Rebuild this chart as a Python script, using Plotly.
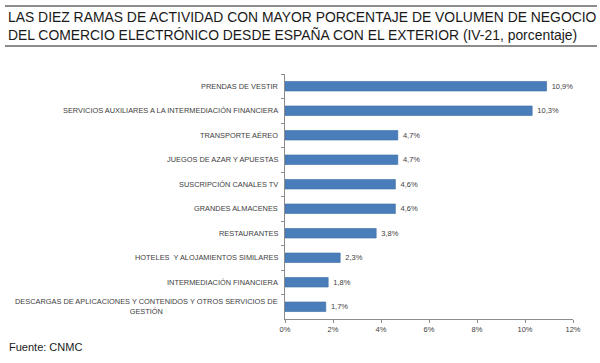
import plotly.graph_objects as go

categories = [
    "PRENDAS DE VESTIR",
    "SERVICIOS AUXILIARES A LA INTERMEDIACIÓN FINANCIERA",
    "TRANSPORTE AÉREO",
    "JUEGOS DE AZAR Y APUESTAS",
    "SUSCRIPCIÓN CANALES TV",
    "GRANDES ALMACENES",
    "RESTAURANTES",
    "HOTELES  Y ALOJAMIENTOS SIMILARES",
    "INTERMEDIACIÓN FINANCIERA",
    "DESCARGAS DE APLICACIONES Y CONTENIDOS Y OTROS SERVICIOS DE<br>GESTIÓN",
]
values = [10.9, 10.3, 4.7, 4.7, 4.6, 4.6, 3.8, 2.3, 1.8, 1.7]
x_ticks = [0, 2, 4, 6, 8, 10, 12]
x_tick_labels = ["0%", "2%", "4%", "6%", "8%", "10%", "12%"]
title_lines = [
    "LAS DIEZ RAMAS DE ACTIVIDAD CON MAYOR PORCENTAJE DE VOLUMEN DE NEGOCIO",
    "DEL COMERCIO ELECTRÓNICO DESDE ESPAÑA CON EL EXTERIOR (IV-21, porcentaje)",
]
source = "Fuente: CNMC"

FONT = "Liberation Sans, Arial, sans-serif"
labels = ["\u00a0" + f"{v:.1f}%".replace(".", ",") for v in values]
ids = [f"c{i}" for i in range(len(categories))]

# plot area in pixels
L, R, T, B = 285, 573, 74, 319
PW, PH = R - L, B - T


def px(x):
    return (x - L) / PW


def py(y):
    return (B - y) / PH


fig = go.Figure(
    go.Bar(
        x=values,
        y=ids,
        orientation="h",
        marker=dict(color="#4a7ebb", line=dict(color="#3d6ba3", width=0.6)),
        text=labels,
        textposition="outside",
        textfont=dict(family=FONT, size=7.5, color="#404040"),
        cliponaxis=False,
        width=0.39,
    )
)

fig.update_layout(
    width=600, height=363,
    margin=dict(l=L, r=600 - R, t=T, b=363 - B),
    paper_bgcolor="white", plot_bgcolor="white",
    showlegend=False,
    xaxis=dict(
        range=[0, 12], tickvals=x_ticks, ticktext=x_tick_labels,
        showgrid=False, zeroline=False,
        showline=True, linecolor="#8c8c8c", linewidth=1,
        ticks="outside", ticklen=3, tickcolor="#8c8c8c",
        tickfont=dict(family=FONT, size=7.5, color="#404040"),
        fixedrange=True,
    ),
    yaxis=dict(
        categoryorder="array", categoryarray=ids, autorange="reversed",
        showticklabels=False, showgrid=False, zeroline=False,
        showline=True, linecolor="#8c8c8c", linewidth=1,
        ticks="outside", ticklen=3, tickcolor="#8c8c8c", tickson="boundaries",
        fixedrange=True,
    ),
)

for cid, cat in zip(ids, categories):
    fig.add_annotation(
        x=0, xref="paper", xanchor="right", xshift=-5,
        y=cid, yref="y", yanchor="middle",
        text=cat, showarrow=False, align="center",
        font=dict(family=FONT, size=7.4, color="#404040"),
    )

# Title, rules and source
fig.add_annotation(
    x=px(6), xref="paper", xanchor="left",
    y=py(26), yref="paper", yanchor="middle",
    text=title_lines[0] + "<br>" + title_lines[1], showarrow=False, align="left",
    font=dict(family=FONT, size=13.9, color="#1a1a1a"),
)
fig.add_annotation(
    x=px(7), xref="paper", xanchor="left",
    y=py(347), yref="paper", yanchor="middle",
    text=source, showarrow=False, align="left",
    font=dict(family=FONT, size=11, color="#1a1a1a"),
)
for yy in (6, 46):
    fig.add_shape(
        type="line", xref="paper", yref="paper",
        x0=px(5), x1=px(597), y0=py(yy), y1=py(yy),
        line=dict(color="#1a1a1a", width=1),
    )

fig.write_html(
    "out.html",
    config={"displayModeBar": False},
    post_script="document.body.style.margin='0';",
)
